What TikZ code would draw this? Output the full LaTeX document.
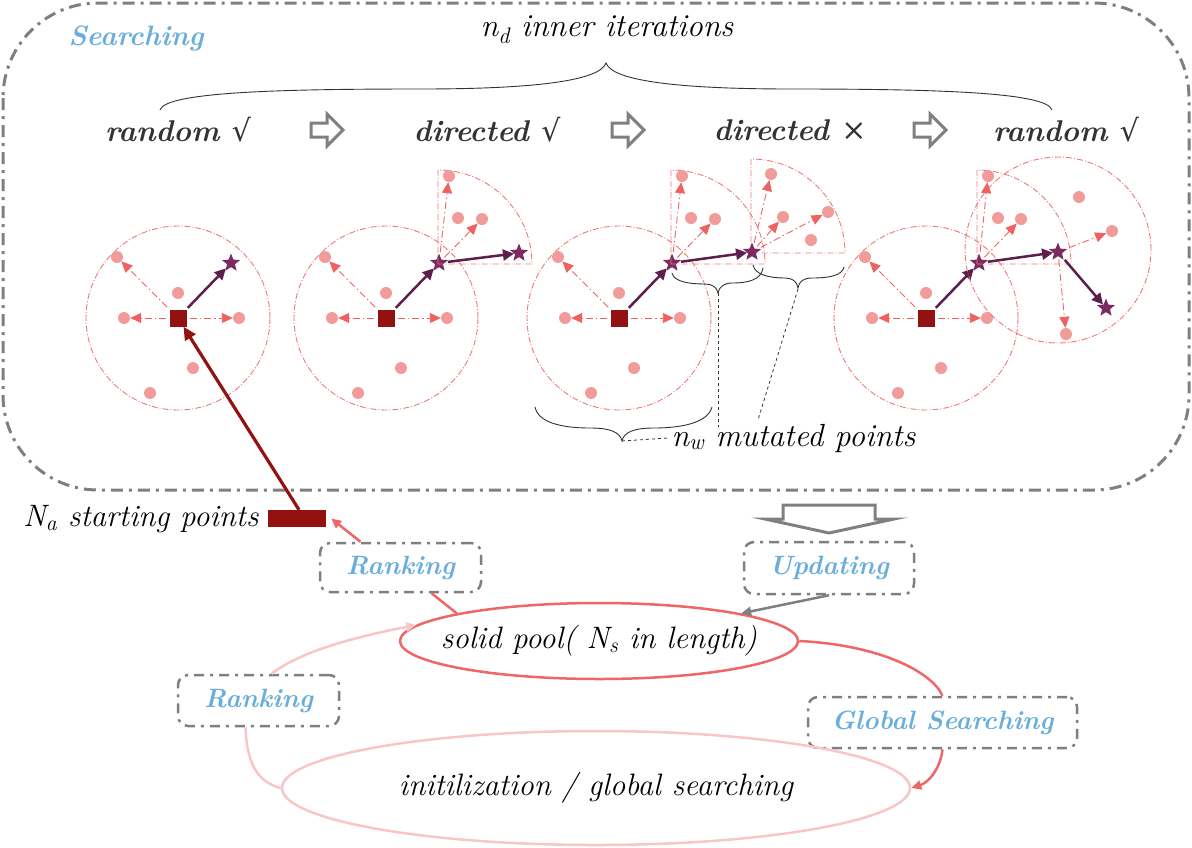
\documentclass[tikz,border=0pt]{standalone}
\usepackage{fontspec}
\newfontfamily\symf{DejaVu Serif}
\usetikzlibrary{arrows.meta,shapes.geometric}
\definecolor{boxgray}{HTML}{7F7F7F}
\definecolor{lblue}{HTML}{6AAEDB}
\definecolor{dtext}{HTML}{333333}
\definecolor{sqred}{HTML}{941111}
\definecolor{dotpink}{HTML}{F29B9B}
\definecolor{arrred}{HTML}{EE6262}
\definecolor{starp}{HTML}{7B2A62}
\definecolor{arrp}{HTML}{5C1F4B}
\definecolor{circc}{HTML}{F07878}
\definecolor{lpink}{HTML}{F8C6C6}
\definecolor{poolred}{HTML}{EE6666}
\newcommand{\mysub}[1]{\textsubscript{\itshape #1}}
\newcommand{\mychk}{{\symf\mdseries\upshape √}}
\newcommand{\mycross}{{\symf\mdseries\upshape ×}}
\tikzset{
  outerbox/.style={draw=boxgray, line width=3pt, dash pattern=on 12pt off 6pt on 3pt off 6pt, rounded corners=95pt},
  lblbox/.style={draw=boxgray, line width=2.5pt, dash pattern=on 10pt off 6pt on 3pt off 6pt, rounded corners=10pt, inner sep=0, text=lblue, font=\fontsize{26.5}{30}\selectfont\bfseries\itshape},
  pdot/.style={circle, fill=dotpink, inner sep=0, minimum size=12pt},
  sqn/.style={fill=sqred, inner sep=0, minimum size=17pt},
  pstar/.style={star, star points=5, star point ratio=2.3, fill=starp, inner sep=0, minimum size=19pt},
  ddarrow/.style={draw=arrred, line width=0.9pt, dash pattern=on 7pt off 3pt on 1.5pt off 3pt, -{Triangle[length=11pt,width=10pt]}, shorten <=3pt},
  ringc/.style={draw=circc, line width=0.9pt, dash pattern=on 6pt off 2pt on 1pt off 2pt},
  parrow/.style={draw=arrp, line width=2.5pt, -{Triangle[length=11pt,width=11pt]}, shorten <=2pt},
  hollow/.style={draw=boxgray, line width=3pt, line join=miter},
  brc/.style={draw=dtext, line width=0.9pt},
  guide/.style={draw=dtext, line width=0.8pt, dashed},
  itxt/.style={font=\fontsize{31}{34}\selectfont\itshape, text=black},
  steptxt/.style={font=\fontsize{30}{34}\selectfont\bfseries\itshape, text=dtext},
}
\begin{document}
\begin{tikzpicture}[x=1pt,y=-1pt]
\useasboundingbox (0,0) rectangle (1192,847);
% outer searching box
\draw[outerbox] (3,3) rectangle (1189,490);
\node[text=lblue, font=\fontsize{28}{32}\selectfont\bfseries\itshape] (srch) at (136,38) {Searching};
\node[itxt, font=\fontsize{32}{36}\selectfont\itshape] (iters) at (607,30) {n\mysub{d} inner iterations};
% top brace
\draw[brc] (160,110) .. controls (165,92) and (280,89) .. (420,89) .. controls (540,89) and (600,80) .. (606,63) .. controls (612,80) and (672,89) .. (792,89) .. controls (932,89) and (1047,92) .. (1052,110);
% step labels
\node[steptxt] (st1) at (178,130) {random \mychk};
\node[steptxt] (st2) at (487,130) {directed \mychk};
\node[steptxt] (st3) at (790,130) {directed \mycross};
\node[steptxt] (st4) at (1066,130) {random \mychk};
\foreach \cx in {327,628,930}{
  \draw[hollow] (\cx-16,137) -- (\cx,137) -- (\cx,146) -- (\cx+16,130) -- (\cx,114) -- (\cx,123) -- (\cx-16,123) -- cycle;
}
% circles
\foreach \i/\cx in {1/178,2/386,3/619,4/926}{
  \draw[ringc] (\cx,318) circle[radius=92pt];
  \node[pdot] (c\i a) at (\cx-61,257) {};
  \node[pdot] (c\i b) at (\cx-54,318) {};
  \node[pdot] (c\i c) at (\cx+61,318) {};
  \node[pdot] (c\i d) at (\cx,293) {};
  \node[pdot] (c\i e) at (\cx+15,368) {};
  \node[pdot] (c\i f) at (\cx-28,393) {};
  \node[sqn] (c\i sq) at (\cx,318) {};
  \node[pstar] (c\i st) at (\cx+53,263) {};
  \draw[ddarrow] (c\i sq) -- (c\i a);
  \draw[ddarrow] (c\i sq) -- (c\i b);
  \draw[ddarrow] (c\i sq) -- (c\i c);
  \draw[parrow] (c\i sq) -- (c\i st);
}
% sectors
\foreach \sx/\sy in {438/264,671/264,751/253,977/264}{
  \draw[ringc] (\sx,\sy) -- (\sx,\sy-94) arc[start angle=90,end angle=0,radius=94pt] -- cycle;
}
\draw[ringc] (1058,250) circle[radius=93pt];
% circle 2 sector
\node[pdot] (s2a) at (449,176) {};
\node[pdot] (s2b) at (458,218) {};
\node[pdot] (s2c) at (482,219) {};
\draw[ddarrow] (c2st) -- (s2a);
\draw[ddarrow] (c2st) -- (s2c);
\node[pstar] (c2st2) at (519,253) {};
\draw[parrow] (c2st) -- (c2st2);
% circle 3 sectors
\node[pdot] (s3a) at (682,176) {};
\node[pdot] (s3b) at (691,218) {};
\node[pdot] (s3c) at (715,219) {};
\draw[ddarrow] (c3st) -- (s3a);
\draw[ddarrow] (c3st) -- (s3c);
\node[pstar] (c3st2) at (752,252) {};
\draw[parrow] (c3st) -- (c3st2);
\node[pdot] (s3d) at (771,174) {};
\node[pdot] (s3e) at (783,217) {};
\node[pdot] (s3f) at (828,212) {};
\node[pdot] (s3g) at (811,240) {};
\draw[ddarrow] (c3st2) -- (s3d);
\draw[ddarrow] (c3st2) -- (s3e);
\draw[ddarrow] (c3st2) -- (s3f);
% circle 4 sector and circle 5
\node[pdot] (s4a) at (988,176) {};
\node[pdot] (s4b) at (998,218) {};
\node[pdot] (s4c) at (1021,219) {};
\draw[ddarrow] (c4st) -- (s4a);
\draw[ddarrow] (c4st) -- (s4c);
\node[pstar] (c4st2) at (1058,252) {};
\draw[parrow] (c4st) -- (c4st2);
\node[pdot] (s5a) at (1079,197) {};
\node[pdot] (s5b) at (1112,231) {};
\node[pdot] (s5c) at (1066,334) {};
\draw[ddarrow] (c4st2) -- (s5b);
\draw[ddarrow] (c4st2) -- (s5c);
\node[pstar] (c4st3) at (1106,308) {};
\draw[parrow] (c4st2) -- (c4st3);
% braces for mutated points
\draw[brc] (672,273) .. controls (674,282) and (690,284) .. (705,284) .. controls (712,284) and (717,287) .. (718,293) .. controls (719,287) and (724,283) .. (732,283) .. controls (748,283) and (761,280) .. (763,268);
\draw[brc] (753,265) .. controls (755,275) and (770,278) .. (785,278) .. controls (792,278) and (797,281) .. (798,288) .. controls (799,281) and (804,278) .. (812,278) .. controls (828,278) and (842,276) .. (844,267);
\draw[brc] (535,407) .. controls (538,422) and (560,428) .. (590,428) .. controls (610,428) and (620,432) .. (622,441) .. controls (624,432) and (634,428) .. (654,428) .. controls (684,428) and (708,422) .. (712,407);
\coordinate (t1) at (718,293);
\coordinate (t2) at (798,289);
\coordinate (t3) at (622,441);
\node[itxt, anchor=west, font=\fontsize{32}{36}\selectfont\itshape] (nw) at (668,438) {n\mysub{w} mutated points};
\draw[guide] (t1) -- (718,427);
\draw[guide] (t2) -- (758,420);
\draw[guide] (t3) -- (nw.west);
% starting points
\node[fill=sqred, minimum width=58pt, minimum height=17pt, inner sep=0] (na) at (297,518.5) {};
\node[itxt, anchor=east] (natxt) at (262,519) {N\mysub{a} starting points};
\draw[draw=sqred, line width=3.2pt, -{Triangle[length=13pt,width=12pt]}] ([xshift=2pt]na.north) -- (c1sq);
% lower part
\node[lblbox, minimum width=161pt, minimum height=49pt] (rank1) at (400.5,567.5) {Ranking};
\node[lblbox, minimum width=170pt, minimum height=52pt] (upd) at (829,568) {Updating};
\node[lblbox, minimum width=161pt, minimum height=51pt] (rank2) at (258.5,700.5) {Ranking};
\node[lblbox, minimum width=269pt, minimum height=51pt] (glob) at (942.5,722.5) {Global Searching};
\draw[hollow] (783,519) -- (783,505) -- (875,505) -- (875,519) -- (894,519) -- (829,533) -- (765,519) -- cycle;
\node[draw=poolred, line width=2.5pt, ellipse, minimum width=398pt, minimum height=76pt, inner sep=0, label={[itxt]center:solid pool( N\mysub{s} in length)}] (pool) at (599,641) {};
\node[draw=lpink, line width=2.5pt, ellipse, minimum width=628pt, minimum height=114pt, inner sep=0, label={[itxt]center:initilization / global searching}] (init) at (596,788) {};
\draw[draw=poolred, line width=2.5pt, -{Triangle[length=10pt,width=9pt]}] ([xshift=-40pt]rank1.north) -- ([xshift=5pt]na.east);
\draw[draw=poolred, line width=2.5pt] ([xshift=31pt]rank1.south) -- (pool.169);
\draw[draw=boxgray, line width=2.5pt, -{Triangle[length=10pt,width=9pt]}] (upd.south) -- (pool.11);
\draw[draw=poolred, line width=2.5pt] (pool.east) .. controls (880,645) and (932,672) .. (glob.north);
\draw[draw=poolred, line width=2.5pt, -{Triangle[length=10pt,width=9pt]}] (glob.south) .. controls (941,766) and (930,782) .. (init.east);
\draw[draw=lpink, line width=2.5pt] ([xshift=-13pt]rank2.south) .. controls (247,770) and (262,783) .. (init.west);
\draw[draw=lpink, line width=2.5pt, -{Triangle[length=10pt,width=9pt]}] ([xshift=13pt]rank2.north) .. controls (300,652) and (350,638) .. (pool.175);
\end{tikzpicture}
\end{document}
